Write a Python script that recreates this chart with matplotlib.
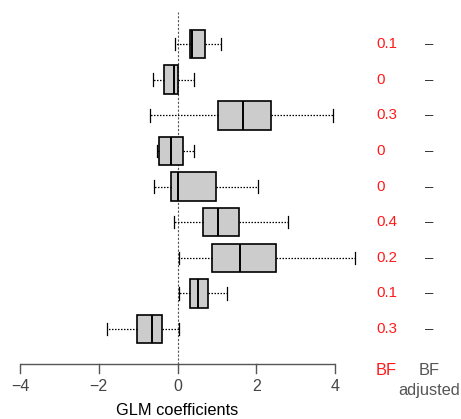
import matplotlib
matplotlib.use("Agg")
import matplotlib.pyplot as plt

# rows listed top to bottom
whisker_lo = [-0.06, -0.63, -0.69, -0.52, -0.59, -0.10, 0.03, 0.05, -1.78]
q1 = [0.31, -0.34, 1.02, -0.46, -0.17, 0.66, 0.87, 0.31, -1.04]
medians = [0.36, -0.09, 1.66, -0.17, 0.02, 1.04, 1.58, 0.53, -0.64]
q3 = [0.69, 0.00, 2.37, 0.14, 0.97, 1.57, 2.49, 0.77, -0.39]
whisker_hi = [1.11, 0.42, 3.94, 0.41, 2.04, 2.80, 4.52, 1.25, 0.05]
bf = ["0.1", "0", "0.3", "0", "0", "0.4", "0.2", "0.1", "0.3"]
bf_adjusted = ["–"] * 9
xticks = [-4, -2, 0, 2, 4]

plt.rcParams["font.family"] = ["Liberation Sans", "DejaVu Sans"]

W, H = 461, 419
fig = plt.figure(figsize=(W / 100, H / 100), dpi=100)
ax = fig.add_axes([0, 1 - 364 / H, 1, (364 - 12) / H])

# pixel -> data mapping: x=-4 at 20px, x=4 at 335px
ppu = (335 - 20) / 8
x0 = 177.5
ax.set_xlim((0 - x0) / ppu, (W - x0) / ppu)
n = len(medians)
ax.set_ylim(0.02, n + 0.9)
row_px = 35.7

stats = []
for i in range(n):
    stats.append({"whislo": whisker_lo[i], "q1": q1[i], "med": medians[i],
                  "q3": q3[i], "whishi": whisker_hi[i], "fliers": []})
positions = list(range(n, 0, -1))

ax.axvline(0, color="#555555", lw=0.8, ls=(0, (2, 1.5)), zorder=0)

ax.bxp(stats, positions=positions, vert=False, widths=0.8, patch_artist=True,
       showfliers=False,
       boxprops=dict(facecolor="#cccccc", edgecolor="black", lw=1.2),
       medianprops=dict(color="black", lw=1.4),
       whiskerprops=dict(color="black", lw=0.9, ls=(0, (1.2, 1.2))),
       capprops=dict(color="black", lw=0.9), capwidths=0.35)

for s in ax.spines.values():
    s.set_visible(False)
ax.set_yticks([])
ax.set_xticks([])

# bottom axis drawn from -4 to 4
base = 0.02
ax.plot([xticks[0], xticks[-1]], [base, base], color="#555555", lw=1.0,
        clip_on=False, solid_capstyle="butt")
tick_len = 9 / row_px
for t in xticks:
    ax.plot([t, t], [base, base - tick_len], color="#555555", lw=1.0,
            clip_on=False)
    lab = f"{t}".replace("-", "\u2212")
    ax.text(t, base - 22.5 / row_px, lab, ha="center", va="center",
            fontsize=11.5, color="#444444", clip_on=False)
ax.text(0, base - 47 / row_px, "GLM coefficients", ha="center", va="center",
        fontsize=11.8, color="black", clip_on=False)

bf_x = (376 - x0) / ppu
adj_x = (429.5 - x0) / ppu
for i in range(n):
    ax.text(bf_x, positions[i], bf[i], ha="left", va="center", fontsize=10.8,
            color="#ff1a1a")
    ax.text(adj_x, positions[i], bf_adjusted[i], ha="center", va="center",
            fontsize=10.8, color="#333333")

ax.text(bf_x, base - 7 / row_px, "BF", ha="left", va="center", fontsize=11.8,
        color="#ff1a1a", clip_on=False)
ax.text(adj_x, base - 7 / row_px, "BF", ha="center", va="center",
        fontsize=11.8, color="#555555", clip_on=False)
ax.text(adj_x, base - 27 / row_px, "adjusted", ha="center", va="center",
        fontsize=11.8, color="#555555", clip_on=False)

fig.savefig("out.png", dpi=100)
